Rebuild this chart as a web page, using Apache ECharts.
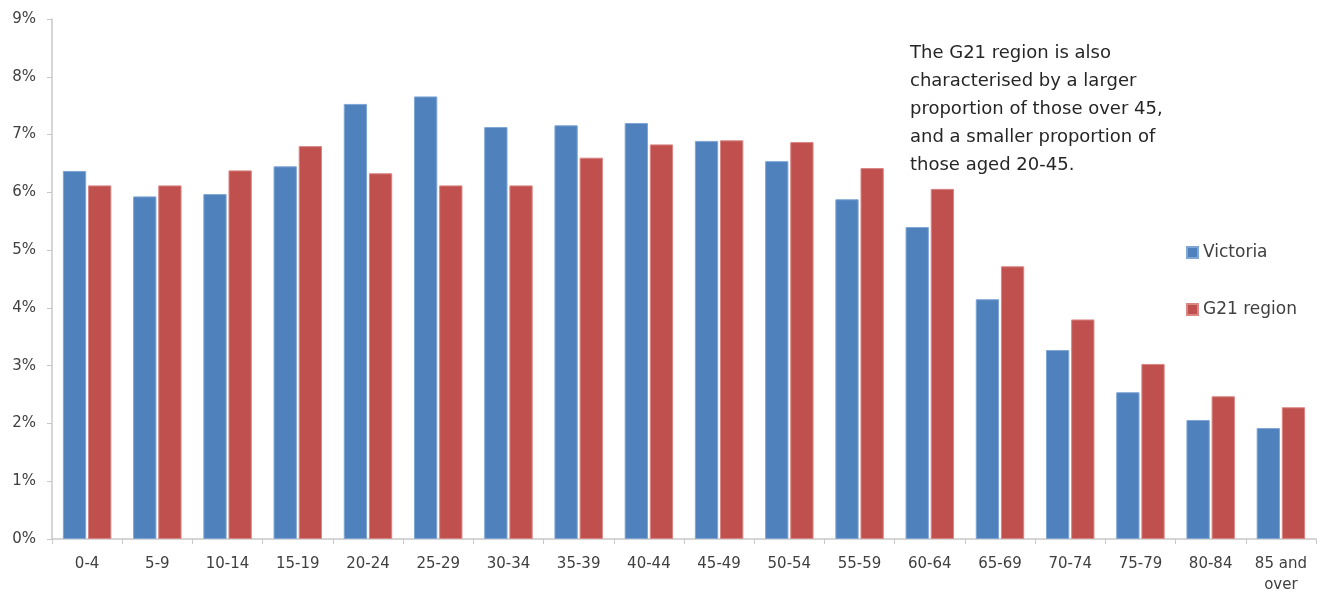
<!DOCTYPE html>
<html><head><meta charset="utf-8">
<script src="https://cdn.jsdelivr.net/npm/echarts@6/dist/echarts.min.js"></script>
<style>html,body{margin:0;padding:0;background:#fff;overflow:hidden}#c{width:1320px;height:594px}</style>
</head><body><div id="c"></div>
<script>
const categories = ["0-4","5-9","10-14","15-19","20-24","25-29","30-34","35-39","40-44","45-49","50-54","55-59","60-64","65-69","70-74","75-79","80-84","85 and\nover"];
const victoria = [6.37,5.93,5.97,6.45,7.53,7.66,7.13,7.16,7.20,6.89,6.54,5.88,5.40,4.15,3.27,2.54,2.06,1.92];
const g21 = [6.12,6.12,6.38,6.80,6.33,6.12,6.12,6.60,6.83,6.90,6.87,6.42,6.06,4.72,3.80,3.03,2.47,2.28];
const yTicks = [0,1,2,3,4,5,6,7,8,9];
const note = ["The G21 region is also","characterised by a larger","proportion of those over 45,","and a smaller proportion of","those aged 20-45."];

const font = "'DejaVu Sans', sans-serif";
const chart = echarts.init(document.getElementById('c'));
chart.setOption({
  animation: false,
  textStyle: {fontFamily: font},
  grid: {left: 52, right: 4, top: 19, bottom: 55, containLabel: false, outerBoundsMode: 'none'},
  legend: {
    orient: 'vertical', left: 1181, top: 239, itemGap: 40,
    itemWidth: 11, itemHeight: 11, icon: 'rect',
    textStyle: {fontSize: 17, color: '#404040', fontFamily: font},
    data: ['Victoria', 'G21 region']
  },
  xAxis: {
    type: 'category', data: categories,
    axisLine: {lineStyle: {color: '#c8c8c8', width: 1.5}},
    axisTick: {show: true, alignWithLabel: false, length: 5, lineStyle: {color: '#c8c8c8'}},
    axisLabel: {color: '#404040', fontSize: 15, margin: 15, interval: 0, lineHeight: 21, fontFamily: font}
  },
  yAxis: {
    type: 'value', min: 0, max: 9, interval: 1,
    axisLine: {show: true, lineStyle: {color: '#c8c8c8', width: 1.5}},
    axisTick: {show: true, length: 5, lineStyle: {color: '#c8c8c8'}},
    splitLine: {show: false},
    axisLabel: {color: '#404040', fontSize: 15, margin: 16, fontFamily: font,
      formatter: v => (yTicks.includes(v) ? v + '%' : '')}
  },
  series: [
    {name: 'Victoria', type: 'bar', data: victoria, barGap: '8%', barCategoryGap: '31%',
     itemStyle: {color: '#4F81BD', borderColor: '#7fa6d6', borderWidth: 1}},
    {name: 'G21 region', type: 'bar', data: g21,
     itemStyle: {color: '#C0504D', borderColor: '#d98684', borderWidth: 1}}
  ],
  graphic: note.map((t, i) => ({
    type: 'text', left: 910, top: 44 + i * 28,
    style: {text: t, fontSize: 18, fill: '#262626', fontFamily: font}
  }))
});
</script></body></html>
